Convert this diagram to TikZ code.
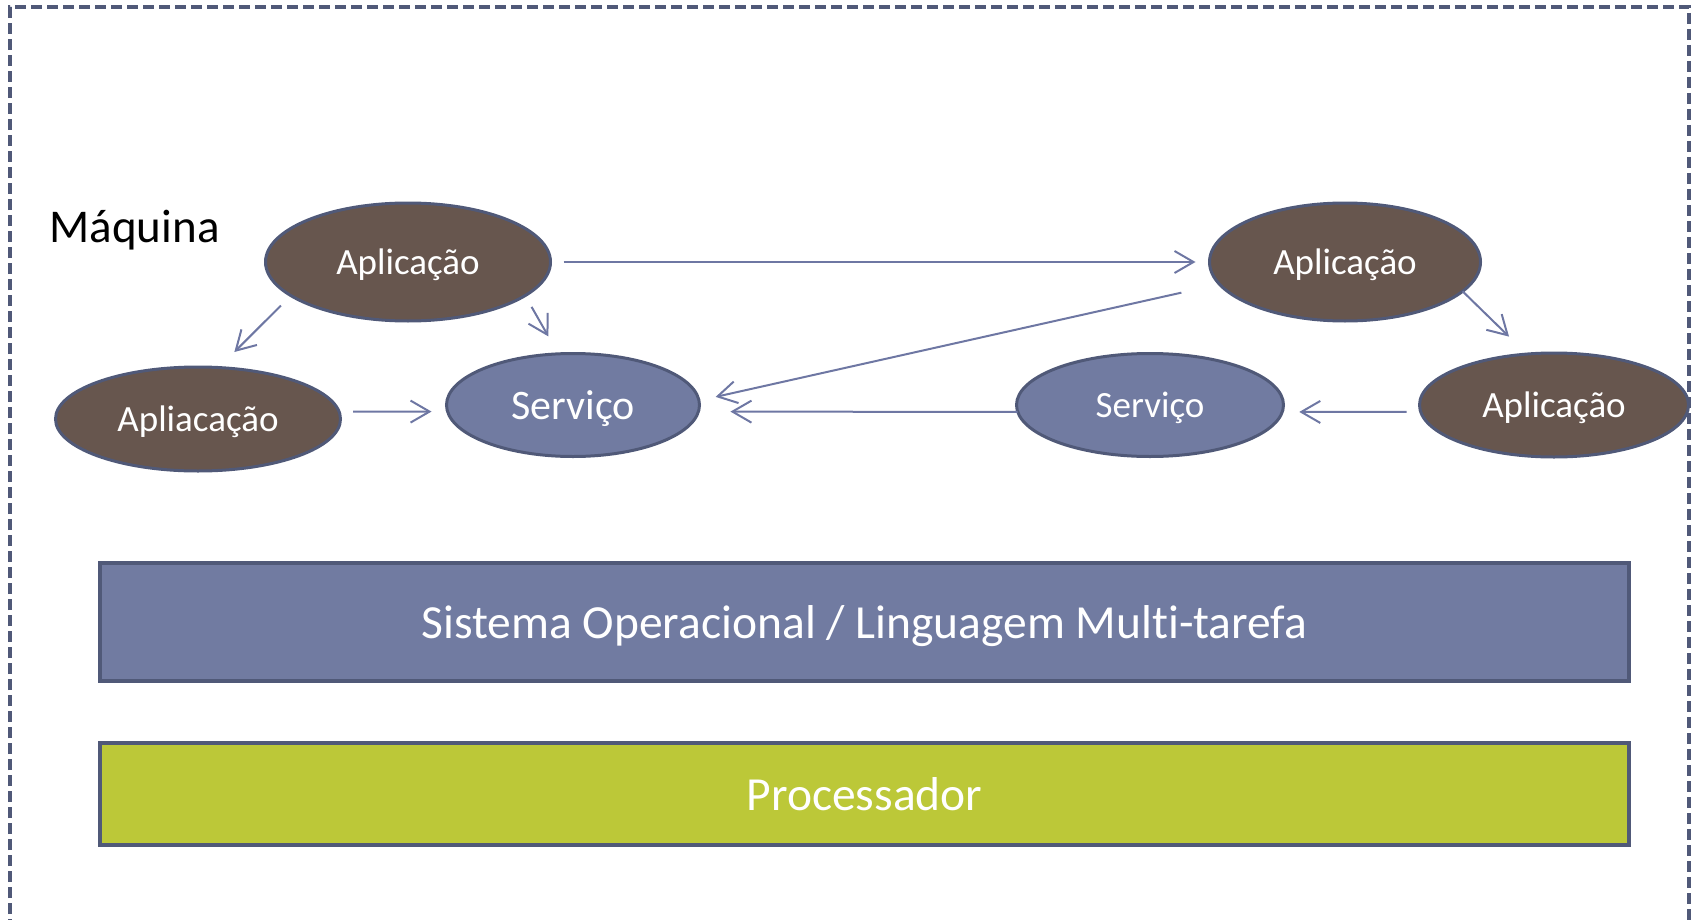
\documentclass[tikz,border=0pt]{standalone}
\usepackage{fontspec}
\setmainfont{Carlito}[Ligatures=NoCommon]
\usetikzlibrary{shapes.geometric,arrows.meta}

\definecolor{appbrown}{RGB}{103,86,78}
\definecolor{svcblue}{RGB}{113,123,161}
\definecolor{edgeslate}{RGB}{80,89,120}
\definecolor{arrowblue}{RGB}{110,119,163}
\definecolor{cpugreen}{RGB}{188,200,56}

\begin{document}
\begin{tikzpicture}[x=1pt,y=-1pt,
    app/.style={ellipse,draw=edgeslate,line width=3pt,fill=appbrown,text=white,
      inner sep=0pt,outer sep=0pt,text depth=0pt,font=\fontsize{37}{44}\selectfont},
    svc/.style={app,fill=svcblue},
    tierbox/.style={rectangle,draw=edgeslate,line width=4pt,text=white,inner sep=0pt,
      outer sep=0pt,minimum width=1529pt,font=\fontsize{47.5}{57}\selectfont},
    msg/.style={draw=arrowblue,line width=2pt,-{Straight Barb[length=19pt,width=22pt]}}]

  \useasboundingbox (0,0) rectangle (1696,920);
  % machine frame, open at the bottom
  \draw[edgeslate,line width=3.5pt,dash pattern=on 11pt off 5pt]
    (10,930) -- (10,7) -- (1689,7) -- (1689,930);
  \node[anchor=base west,font=\fontsize{47}{56}\selectfont] (maq) at (46,242) {Máquina};

  % applications and services
  \node[app,minimum width=285pt,minimum height=118pt] (app1) at (408,262) {Aplicação};
  \node[app,minimum width=285pt,minimum height=104pt] (app2) at (198,419) {Apliacação};
  \node[svc,minimum width=253pt,minimum height=103pt,font=\fontsize{42}{50}\selectfont] (svc1) at (573,405) {Serviço};
  \node[svc,minimum width=267pt,minimum height=103pt] (svc2) at (1150,405) {Serviço};
  \node[app,minimum width=271pt,minimum height=118pt] (app3) at (1345,262) {Aplicação};
  \node[app,minimum width=269pt,minimum height=104pt] (app4) at (1554,405) {Aplicação};

  % messages
  \draw[msg,shorten <=13pt,shorten >=14pt] (app1.east) -- (app3.west);
  \draw[msg,shorten <=39pt,shorten >=17pt] (app3.190) -- (svc1.2);
  \draw[msg,shorten >=32pt] (svc2.183) -- (svc1.357);
  \draw[msg,shorten <=14pt,shorten >=17pt] (app4.183) -- (svc2.357);
  \draw[msg,shorten >=25pt] (app3.346) -- (app4.118);
  \draw[msg,shorten <=14pt,shorten >=22pt] (app1.196) -- (app2.68);
  \draw[msg,shorten <=13pt,shorten >=20pt] (app1.344) -- (svc1.106);
  \draw[msg,shorten <=14pt,shorten >=16pt] (app2.3) -- (svc1.183);

  % layers below
  \node[tierbox,fill=svcblue,minimum height=118pt,text depth=0pt] (so) at (864.5,622) {Sistema Operacional / Linguagem Multi-tarefa};
  \node[tierbox,fill=cpugreen,minimum height=102pt] (cpu) at (864.5,794) {Processador};
\end{tikzpicture}
\end{document}
